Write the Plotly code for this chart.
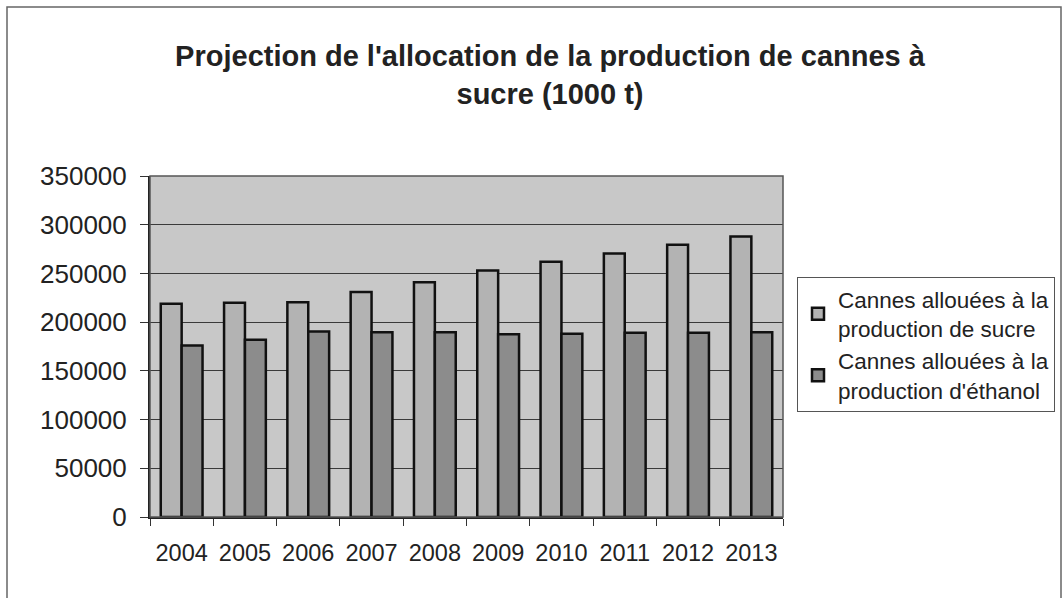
import plotly.graph_objects as go

# Data (1000 t)
years = ["2004", "2005", "2006", "2007", "2008", "2009", "2010", "2011", "2012", "2013"]
sucre = [219000, 220000, 220500, 231000, 241000, 253000, 262000, 270500, 279500, 288000]
ethanol = [176000, 182000, 190500, 189500, 189500, 187500, 188000, 189000, 189000, 189500]
y_ticks = [0, 50000, 100000, 150000, 200000, 250000, 300000, 350000]
y_labels = [str(v) for v in y_ticks]

font_name = "Liberation Sans, Arial, sans-serif"

fig = go.Figure()
fig.add_trace(go.Bar(x=years, y=sucre, name="Cannes allouées à la<br>production de sucre",
                     marker=dict(color="#b3b3b3", line=dict(color="#111111", width=2.5))))
fig.add_trace(go.Bar(x=years, y=ethanol, name="Cannes allouées à la<br>production d'éthanol",
                     marker=dict(color="#8c8c8c", line=dict(color="#111111", width=2.5))))

fig.update_layout(
    width=1064, height=598,
    margin=dict(l=150, r=281, t=176, b=81, autoexpand=False),
    paper_bgcolor="white", plot_bgcolor="#c8c8c8",
    font=dict(family=font_name, color="#222222"),
    title=dict(text="<b>Projection de l'allocation de la production de cannes à<br>sucre (1000 t)</b>",
               x=550 / 1064, xanchor="center", y=1 - 66 / 598, yanchor="middle",
               font=dict(size=29, color="#222222")),
    barmode="group", bargap=0.34, bargroupgap=0,
    showlegend=True,
    legend=dict(x=(797 - 150) / 633, xanchor="left", y=(516 - 276) / 341, yanchor="top",
                bordercolor="#555555", borderwidth=1, bgcolor="white",
                font=dict(size=22.5, color="#222222"), tracegroupgap=8),
)

fig.update_xaxes(type="category", tickson="boundaries", ticks="outside", ticklen=7,
                 tickcolor="#333333", showline=True, linecolor="#222222", linewidth=2,
                 mirror=False, tickfont=dict(size=23.5), ticklabelstandoff=14,
                 showgrid=False)
fig.update_yaxes(range=[0, 350000], tickvals=y_ticks, ticktext=y_labels, ticks="outside",
                 ticklen=8, tickcolor="#333333", showline=True, linecolor="#222222",
                 linewidth=2, showgrid=True, gridcolor="#3a3a3a", gridwidth=1,
                 tickfont=dict(size=26), ticklabelstandoff=8, zeroline=False)

# plot-area border (top/right) and outer chart frame
fig.add_shape(type="rect", xref="paper", yref="paper", x0=0, x1=1, y0=0, y1=1,
              line=dict(color="#555555", width=1.5), layer="above")
fig.add_shape(type="rect", xref="paper", yref="paper",
              x0=(7 - 150) / 633, x1=(1061 - 150) / 633,
              y0=(516 - 599) / 341, y1=(516 - 6) / 341,
              line=dict(color="#666666", width=1.5))

# drop the browser's default body margin so the figure sits at the page corner
fig.write_html("out.html", config={"displayModeBar": False},
               post_script="document.body.style.margin='0';")
